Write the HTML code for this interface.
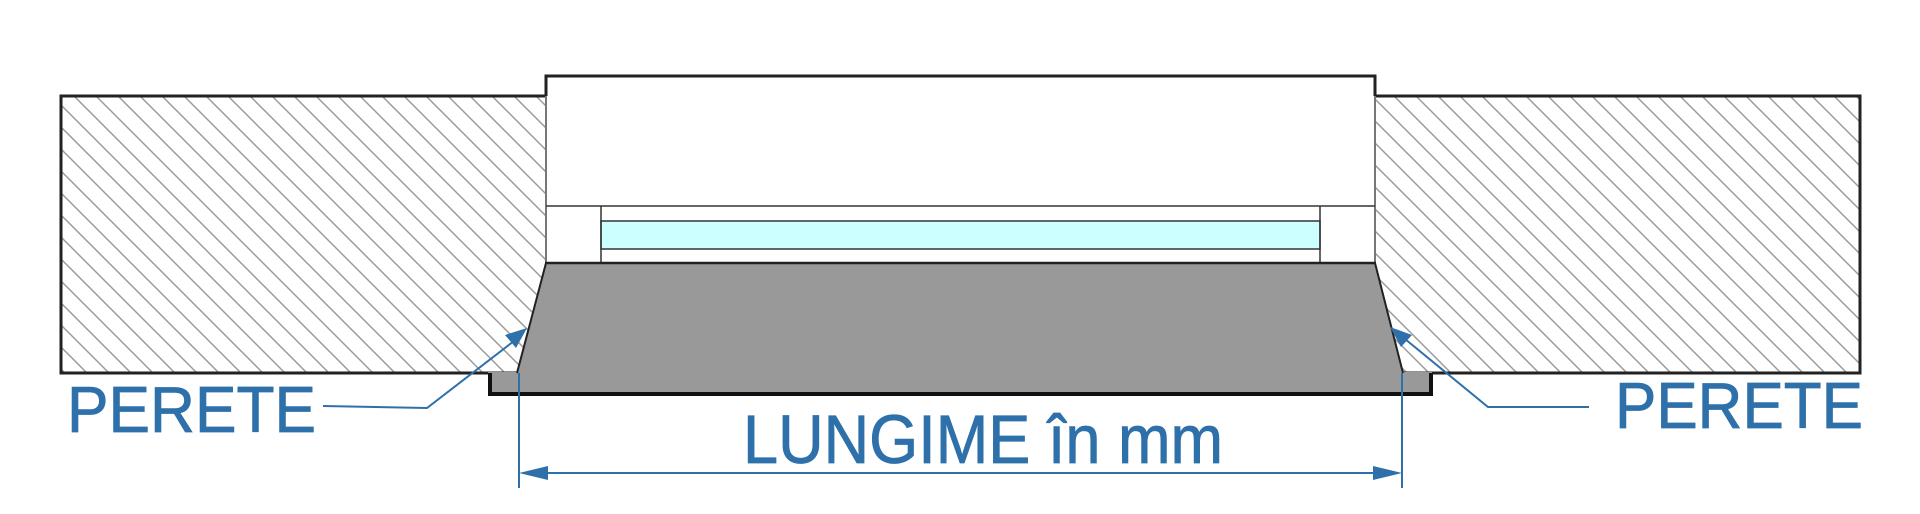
<!DOCTYPE html>
<html><head><meta charset="utf-8"><style>html,body{margin:0;padding:0;background:#fff}svg{display:block}</style></head>
<body>
<svg width="1920" height="514" viewBox="0 0 1920 514" xmlns="http://www.w3.org/2000/svg">
<defs>
<pattern id="h" patternUnits="userSpaceOnUse" width="22" height="22">
<path d="M-2,-2 L24,24 M-13,9 L13,35 M9,-13 L35,13" stroke="#9a9a9a" stroke-width="1.5" fill="none"/>
</pattern>
</defs>
<rect width="1920" height="514" fill="#fff"/>
<rect x="61" y="96" width="485" height="277" fill="url(#h)"/>
<rect x="1375" y="96" width="485" height="277" fill="url(#h)"/>
<path d="M546,96 H61 V373 H517" fill="none" stroke="#222" stroke-width="3"/>
<path d="M1375,96 H1860 V373 H1403" fill="none" stroke="#222" stroke-width="3"/>
<rect x="546" y="76" width="829" height="187" fill="#fff"/>
<path d="M546,96 V76 H1375 V96" fill="none" stroke="#222" stroke-width="3"/>
<line x1="546" y1="96" x2="546" y2="263" stroke="#777" stroke-width="2"/>
<line x1="1375" y1="96" x2="1375" y2="263" stroke="#777" stroke-width="2"/>
<line x1="546" y1="206" x2="1375" y2="206" stroke="#333" stroke-width="1.5"/>
<rect x="601" y="221" width="719" height="28" fill="#ccffff" stroke="#333" stroke-width="1.5"/>
<line x1="601" y1="206" x2="601" y2="263" stroke="#333" stroke-width="1.5"/>
<line x1="1320" y1="206" x2="1320" y2="263" stroke="#333" stroke-width="1.5"/>
<rect x="488" y="372" width="944" height="22" fill="#999"/>
<path d="M490,373 V394 H1431 V373" fill="none" stroke="#111" stroke-width="4"/>
<polygon points="546,263 1375,263 1403,373 517,373" fill="#999"/>
<g stroke="#222" stroke-width="2">
<line x1="546" y1="263" x2="517" y2="373"/>
<line x1="1375" y1="263" x2="1403" y2="373"/>
<line x1="545" y1="263" x2="1376" y2="263" stroke-width="2.5"/>
</g>
<g stroke="#2e70a9" stroke-width="2" fill="none">
<line x1="519" y1="373" x2="519" y2="488"/>
<line x1="1402" y1="373" x2="1402" y2="488"/>
<line x1="545" y1="473" x2="1376" y2="473"/>
<polyline points="323,406 427,408 514,341"/>
<polyline points="1589,407 1488,407 1405,339"/>
</g>
<g fill="#2e70a9">
<polygon points="519,473 548,466 548,480"/>
<polygon points="1402,473 1373,466 1373,480"/>
<polygon points="527,328 505,335 516,348"/>
<polygon points="1390,327 1401,347 1412,335"/>
</g>
<g fill="#2e70a9" font-family="Liberation Sans, Arial, sans-serif" stroke="#2e70a9" stroke-width="0.8">
<text x="67" y="432" font-size="65" textLength="249" lengthAdjust="spacingAndGlyphs">PERETE</text>
<text x="1615" y="428" font-size="65" textLength="248" lengthAdjust="spacingAndGlyphs">PERETE</text>
<text x="743" y="463" font-size="69" textLength="480" lengthAdjust="spacingAndGlyphs">LUNGIME în mm</text>
</g>
</svg>
</body></html>
